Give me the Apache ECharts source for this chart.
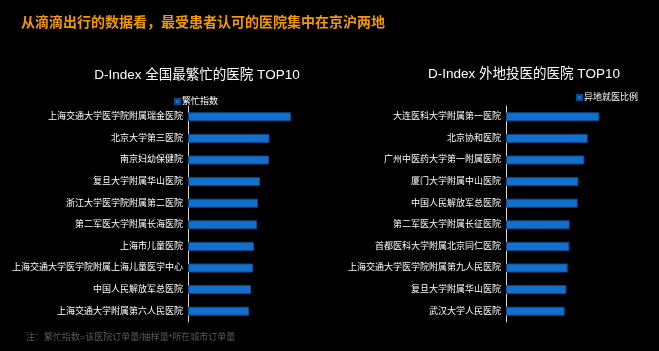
<!DOCTYPE html>
<html>
<head>
<meta charset="utf-8">
<script src="https://cdn.jsdelivr.net/npm/echarts@6/dist/echarts.min.js"></script>
<style>
  html, body { margin: 0; padding: 0; background: #000; }
  #main { width: 659px; height: 351px; }
</style>
</head>
<body>
<div id="main"></div>
<script>
// 全国最繁忙的医院
const busyHospitals = [
  '上海交通大学医学院附属瑞金医院',
  '北京大学第三医院',
  '南京妇幼保健院',
  '复旦大学附属华山医院',
  '浙江大学医学院附属第二医院',
  '第二军医大学附属长海医院',
  '上海市儿童医院',
  '上海交通大学医学院附属上海儿童医学中心',
  '中国人民解放军总医院',
  '上海交通大学附属第六人民医院'
]
const busyIndex = [103, 81.5, 81, 72, 70, 69, 66, 65, 63, 61]

// 外地投医的医院
const remoteHospitals = [
  '大连医科大学附属第一医院',
  '北京协和医院',
  '广州中医药大学第一附属医院',
  '厦门大学附属中山医院',
  '中国人民解放军总医院',
  '第二军医大学附属长征医院',
  '首都医科大学附属北京同仁医院',
  '上海交通大学医学院附属第九人民医院',
  '复旦大学附属华山医院',
  '武汉大学人民医院'
]
const remoteRatio = [93.4, 81.7, 78.4, 72.4, 71.7, 63.7, 63.4, 61.7, 60.4, 58.7]

const font = '"Liberation Sans", "Noto Sans CJK SC", sans-serif'
const barColor = '#1270cc'

function catAxis (gridIndex, names) {
  return {
    type: 'category',
    gridIndex: gridIndex,
    data: names,
    inverse: true,
    axisLine: { lineStyle: { color: '#d9d9d9', width: 1 } },
    axisTick: { show: false },
    axisLabel: { color: '#fff', fontSize: 9, fontFamily: font, margin: 5 },
    splitLine: { show: false }
  }
}

function valAxis (gridIndex) {
  return {
    type: 'value',
    gridIndex: gridIndex,
    min: 0,
    max: 120,
    show: false,
    splitLine: { show: false }
  }
}

const myChart = echarts.init(document.getElementById('main'))

myChart.setOption({
  backgroundColor: '#000',
  animation: false,
  title: [
    {
      text: '从滴滴出行的数据看，最受患者认可的医院集中在京沪两地',
      left: 16,
      top: 11,
      textStyle: { color: '#f39800', fontSize: 14, fontWeight: 'bold', fontFamily: font }
    },
    {
      text: 'D-Index 全国最繁忙的医院 TOP10',
      left: 192,
      textAlign: 'center',
      top: 64,
      textStyle: { color: '#fff', fontSize: 13.5, fontWeight: 'normal', fontFamily: font }
    },
    {
      text: 'D-Index 外地投医的医院 TOP10',
      left: 519,
      textAlign: 'center',
      top: 63,
      textStyle: { color: '#fff', fontSize: 13.5, fontWeight: 'normal', fontFamily: font }
    },
    {
      text: '注：繁忙指数=该医院订单量/抽样量*所在城市订单量',
      left: 21,
      top: 328,
      textStyle: { color: '#595959', fontSize: 9, fontWeight: 'normal', fontFamily: font }
    }
  ],
  legend: [
    {
      data: ['繁忙指数'],
      left: 169,
      top: 92,
      itemWidth: 5,
      itemHeight: 5,
      icon: 'rect',
      textStyle: { color: '#fff', fontSize: 9, fontFamily: font, padding: [0, 0, 0, -3] }
    },
    {
      data: ['异地就医比例'],
      left: 571,
      top: 88,
      itemWidth: 5,
      itemHeight: 5,
      icon: 'rect',
      textStyle: { color: '#fff', fontSize: 9, fontFamily: font, padding: [0, 0, 0, -3] }
    }
  ],
  grid: [
    { left: 188, top: 106, width: 120, height: 216 },
    { left: 506, top: 106, width: 120, height: 216 }
  ],
  xAxis: [valAxis(0), valAxis(1)],
  yAxis: [catAxis(0, busyHospitals), catAxis(1, remoteHospitals)],
  series: [
    {
      name: '繁忙指数',
      type: 'bar',
      xAxisIndex: 0,
      yAxisIndex: 0,
      data: busyIndex,
      barWidth: 9,
      itemStyle: { color: barColor, borderColor: '#0d4a8a', borderWidth: 1 }
    },
    {
      name: '异地就医比例',
      type: 'bar',
      xAxisIndex: 1,
      yAxisIndex: 1,
      data: remoteRatio,
      barWidth: 9,
      itemStyle: { color: barColor, borderColor: '#0d4a8a', borderWidth: 1 }
    }
  ]
})
</script>
</body>
</html>
